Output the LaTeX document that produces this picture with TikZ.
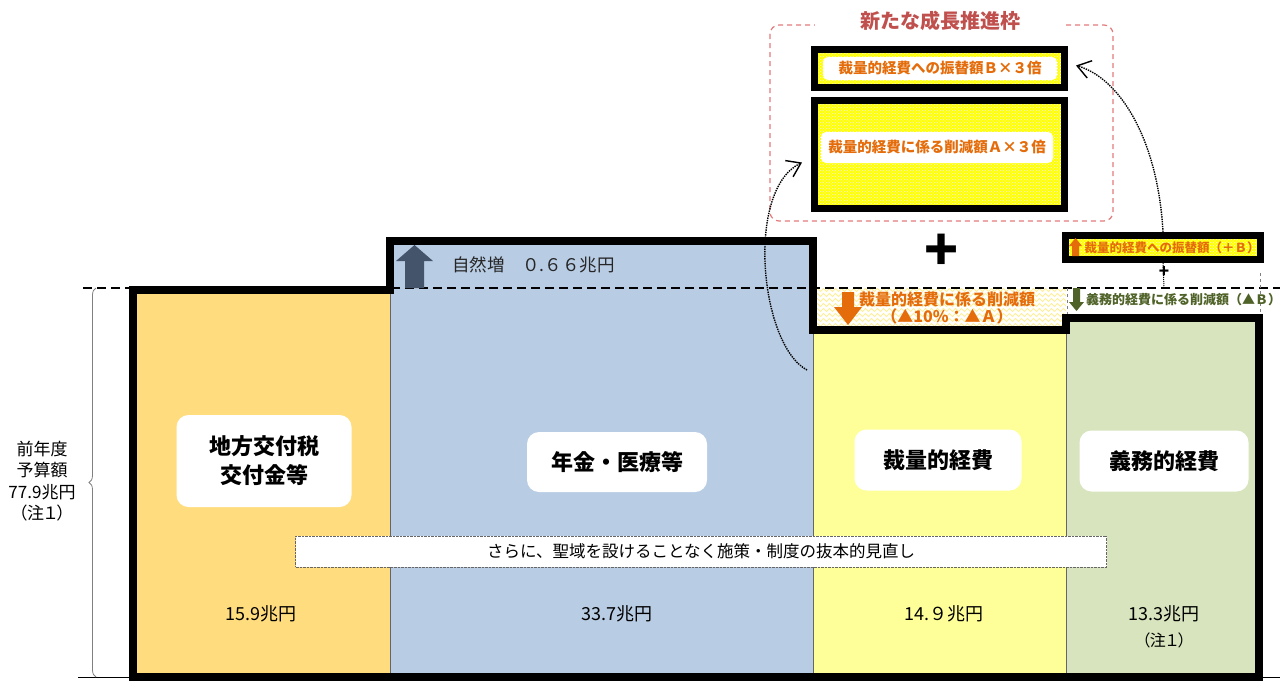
\documentclass[tikz,border=0pt]{standalone}
\usepackage{fontspec}
\setmainfont{Noto Sans CJK JP}
\newfontfamily\propjp{Noto Sans CJK JP}[RawFeature=+palt]
\usetikzlibrary{patterns,decorations.pathreplacing,decorations.pathmorphing,arrows.meta}
\definecolor{local-gold}{HTML}{FFDD7F}
\definecolor{pension-blue}{HTML}{B8CCE4}
\definecolor{discr-yellow}{HTML}{FFFF99}
\definecolor{mand-green}{HTML}{D7E4BD}
\definecolor{slate-arrow}{HTML}{44546A}
\definecolor{cut-orange}{HTML}{E46C0A}
\definecolor{mand-olive}{HTML}{4F6228}
\definecolor{frame-red}{HTML}{E37B7B}
\definecolor{title-red}{HTML}{C0504D}
\definecolor{vivid-yellow}{HTML}{FFFF00}
\definecolor{wave-yellow}{HTML}{FFEE99}

\begin{document}
\begin{tikzpicture}[x=1pt, y=-1pt,
    every node/.style={font=\fontsize{18}{20}\selectfont, inner sep=0pt},
    block/.style={draw=black!60, line width=0.8pt},
    labelbox/.style={fill=white, rounded corners=12pt, align=center,
        font=\fontsize{22}{29}\selectfont\bfseries},
    growthbox/.style={draw=black, line width=7pt, preaction={fill=vivid-yellow},
        pattern=crosshatch dots, pattern color=white},
    growthtext/.style={fill=white, rounded corners=5pt, text=cut-orange,
        font=\fontsize{14.5}{17}\selectfont\bfseries},
    curvearrow/.style={densely dotted, line width=1.4pt,
        -{Straight Barb[length=13pt, width=18pt, line width=1.4pt]}}]
  \useasboundingbox (0,0) rectangle (1280,691);

  % budget blocks
  \filldraw[block, fill=local-gold] (133,290) rectangle (390,677);
  \filldraw[block, fill=pension-blue] (390,241) rectangle (813,677);
  \filldraw[block, fill=discr-yellow] (813,330) rectangle (1066,677);
  \filldraw[block, fill=mand-green] (1066,318) rectangle (1259,677);

  % cut area above discretionary block
  \begin{scope}
    \clip (815,288) rectangle (1066,330);
    \foreach \yy in {290,295,...,330}
      \draw[wave-yellow, line width=1pt, decorate,
            decoration={zigzag, segment length=6pt, amplitude=1.5pt}] (810,\yy) -- (1072,\yy);
  \end{scope}

  \draw[dash pattern=on 9pt off 5pt, line width=1.2pt] (83,288) -- (1280,288);
  \draw[line width=1pt] (78,677) -- (1280,677);
  \draw[dashed, black!50, line width=0.8pt] (1067,288) -- (1067,318);
  \draw[dashed, black!50, line width=0.8pt] (1260,273) -- (1260,318);

  \draw[line width=8pt] (133,677) -- (133,290) -- (390,290) -- (390,241) -- (813,241)
      -- (813,330) -- (1066,330) -- (1066,318) -- (1259,318) -- (1259,677) -- cycle;

  % previous budget
  \draw[black!50, line width=0.8pt, decorate, decoration={brace, amplitude=7pt}]
      (96,677) -- (96,288);
  \node[align=center, font=\fontsize{17}{21.5}\selectfont] (prevbudget) at (42,481)
      {前年度\\予算額\\77.9兆円\\{\propjp （注１）}};

  % block labels
  \node[labelbox, minimum width=175pt, minimum height=92pt] (localtax) at (264,461) {地方交付税\\交付金等};
  \node[labelbox, minimum width=180pt, minimum height=60pt] (pension) at (617,462) {年金・医療等};
  \node[labelbox, minimum width=167pt, minimum height=61pt] (discr) at (938,460) {裁量的経費};
  \node[labelbox, minimum width=169pt, minimum height=61pt] (mand) at (1164,461) {義務的経費};

  \node[draw=black!60, densely dotted, fill=white, minimum width=811pt, minimum height=31pt,
        font=\fontsize{16.5}{20}\selectfont] (review) at (701,551.5)
      {さらに、聖域を設けることなく施策・制度の抜本的見直し};

  \node (localval) at (261,614) {15.9兆円};
  \node (pensionval) at (617,614) {33.7兆円};
  \node (discrval) at (944,614) {14.９兆円};
  \node (mandval) at (1164,614) {13.3兆円};
  \node[font=\fontsize{16}{18}\propjp] (mandnote) at (1164,640) {（注１）};

  % natural increase
  \fill[slate-arrow] (405,288) -- (405,261) -- (396,261) -- (414.5,245) -- (433,261)
      -- (424,261) -- (424,288) -- cycle;
  \node[anchor=west, text=black!85, font=\fontsize{17.5}{20}\selectfont] (natinc) at (452,265)
      {自然増　０.６６兆円};

  % cuts
  \fill[cut-orange] (842,292) -- (854,292) -- (854,307) -- (862,307) -- (848,325)
      -- (834,307) -- (842,307) -- cycle;
  \node[align=center, text=cut-orange, font=\fontsize{16}{17}\selectfont\bfseries] (discrcut)
      at (947,308) {裁量的経費に係る削減額\\（▲10\%：▲Ａ）};
  \fill[mand-olive] (1073,288) -- (1080,288) -- (1080,302) -- (1084,302) -- (1076.5,311)
      -- (1069,302) -- (1073,302) -- cycle;
  \node[anchor=west, text=mand-olive, font=\fontsize{13}{15}\selectfont\bfseries] (mandcut)
      at (1086,300) {義務的経費に係る削減額（▲Ｂ）};

  % transfer
  \node[growthbox, line width=7pt, minimum width=195pt, minimum height=24pt] (transferbox)
      at (1163,247.5) {};
  \fill[cut-orange] (1072,256) -- (1072,246) -- (1069,246) -- (1075.5,238) -- (1082,246)
      -- (1079,246) -- (1079,256) -- cycle;
  \node[text=cut-orange, font=\fontsize{12.5}{14}\selectfont\bfseries] (transfertext)
      at (1172,247.5) {裁量的経費への振替額（＋Ｂ）};
  \coordinate (baseB) at (1164,288);
  \draw[densely dotted, line width=1pt] (transferbox.south) -- (baseB);
  \node[font=\fontsize{17}{17}\selectfont\bfseries] (smallplus) at (1164,272) {+};

  \node[font=\fontsize{56}{56}\selectfont\bfseries] (bigplus) at (942,252) {+};

  % growth frame
  \draw[frame-red, dash pattern=on 5pt off 4pt, line width=1.2pt, rounded corners=9pt]
      (770,25) rectangle (1113,221);
  \node[fill=white, inner xsep=45pt, text=title-red, font=\fontsize{20}{22}\selectfont\bfseries]
      (growthtitle) at (940,21) {新たな成長推進枠};

  \node[growthbox, minimum width=250pt, minimum height=38pt] (boxB) at (939.5,68.5) {};
  \node[growthtext, minimum width=234pt, minimum height=23pt] (boxBtext) at (940,68.5)
      {裁量的経費への振替額Ｂ×３倍};
  \node[growthbox, minimum width=250pt, minimum height=108pt] (boxA) at (939.5,154.5) {};
  \node[growthtext, minimum width=232pt, minimum height=31pt] (boxAtext) at (937,147.5)
      {裁量的経費に係る削減額Ａ×３倍};

  % flows into growth frame
  \coordinate (cutsrc) at (807,370);
  \draw[curvearrow] (cutsrc) .. controls (760,345) and (745,190) .. ([shift={(-9,8)}]boxA.west);
  \draw[curvearrow] (transferbox.north) .. controls (1158,140) and (1120,78) .. ([shift={(8,-3)}]boxB.east);
\end{tikzpicture}
\end{document}
